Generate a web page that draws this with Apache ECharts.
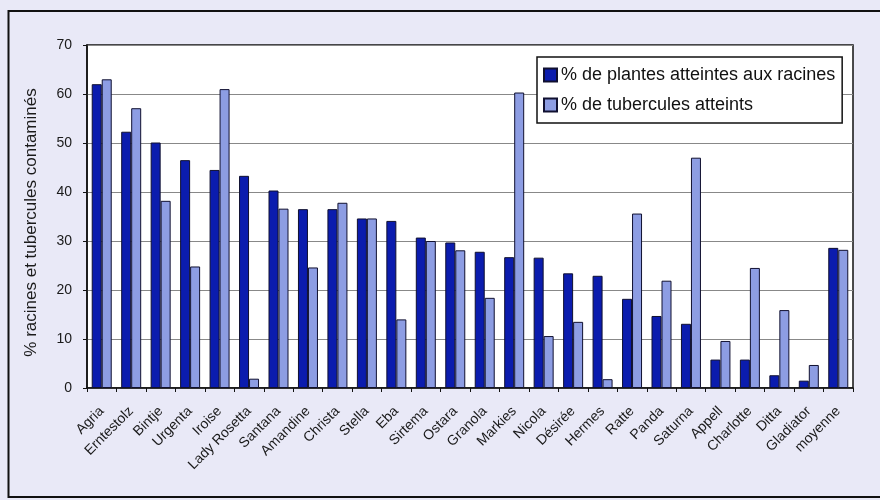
<!DOCTYPE html>
<html>
<head>
<meta charset="utf-8">
<script src="https://cdn.jsdelivr.net/npm/echarts@6/dist/echarts.min.js"></script>
<style>
  html, body { margin: 0; padding: 0; background: #e9e9f7; }
  #chart { width: 880px; height: 500px; }
</style>
</head>
<body>
<div id="chart"></div>
<script>
// Potato varieties, sorted by share of plants with infected roots
const varieties = ['Agria', 'Erntestolz', 'Bintje', 'Urgenta', 'Iroise', 'Lady Rosetta', 'Santana',
  'Amandine', 'Christa', 'Stella', 'Eba', 'Sirtema', 'Ostara', 'Granola', 'Markies', 'Nicola',
  'Désirée', 'Hermes', 'Ratte', 'Panda', 'Saturna', 'Appell', 'Charlotte', 'Ditta', 'Gladiator', 'moyenne'];

// % de plantes atteintes aux racines
const rootsPct = [62.0, 52.3, 50.1, 46.5, 44.5, 43.3, 40.3, 36.5, 36.5, 34.6, 34.1, 30.7, 29.7,
  27.8, 26.7, 26.6, 23.4, 22.9, 18.2, 14.7, 13.1, 5.8, 5.8, 2.6, 1.5, 28.6];

// % de tubercules atteints
const tubersPct = [63.0, 57.1, 38.2, 24.8, 61.0, 1.9, 36.6, 24.6, 37.8, 34.6, 14.0, 30.0, 28.1,
  18.4, 60.3, 10.6, 13.5, 1.8, 35.6, 21.9, 47.0, 9.6, 24.5, 15.9, 4.7, 28.2];

const yTicks = { min: 0, max: 70, interval: 10 };

const seriesNames = ['% de plantes atteintes aux racines', '% de tubercules atteints'];

const chart = echarts.init(document.getElementById('chart'), null, { renderer: 'canvas' });

chart.setOption({
  backgroundColor: '#e9e9f7',
  animation: false,
  textStyle: { fontFamily: 'Liberation Sans, Arial, sans-serif' },
  graphic: [{
    type: 'rect',
    shape: { x: 8.5, y: 11, width: 880, height: 486 },
    style: { fill: 'none', stroke: '#111', lineWidth: 2 },
    silent: true,
    z: -1
  }],
  grid: {
    left: 87, right: 27, top: 45, bottom: 112,
    show: true, backgroundColor: '#ffffff', borderColor: '#111', borderWidth: 1.5
  },
  legend: {
    orient: 'vertical',
    left: 537, top: 57,
    padding: [9, 7, 9, 6],
    itemWidth: 13, itemHeight: 13,
    itemGap: 12,
    backgroundColor: '#ffffff',
    borderColor: '#111', borderWidth: 1.5,
    textStyle: { fontSize: 18, color: '#111', padding: [0, 0, 0, -1] },
    data: seriesNames.map(n => ({ name: n, icon: 'rect' }))
  },
  xAxis: {
    type: 'category',
    data: varieties,
    axisLine: { lineStyle: { color: '#111', width: 1.5 } },
    axisTick: { show: true, length: 4, lineStyle: { color: '#111' } },
    axisLabel: { rotate: 45, fontSize: 14, color: '#1a1a1a', margin: 21, interval: 0 }
  },
  yAxis: {
    type: 'value',
    min: yTicks.min, max: yTicks.max, interval: yTicks.interval,
    name: '% racines et tubercules contaminés',
    nameLocation: 'middle',
    nameGap: 47,
    nameRotate: 90,
    nameTextStyle: { fontSize: 17, color: '#1a1a1a', padding: [0, 12, 0, 0] },
    axisLine: { show: true, lineStyle: { color: '#111', width: 1.5 } },
    axisTick: { show: true, length: 4, lineStyle: { color: '#111' } },
    axisLabel: { fontSize: 14, color: '#1a1a1a', margin: 15 },
    splitLine: { lineStyle: { color: '#888', width: 1 } }
  },
  series: [
    {
      name: seriesNames[0], type: 'bar', data: rootsPct,
      barWidth: 10, barGap: '0%',
      itemStyle: { color: '#0b1cae', borderColor: '#101030', borderWidth: 1 }
    },
    {
      name: seriesNames[1], type: 'bar', data: tubersPct,
      barWidth: 10, barGap: '0%',
      itemStyle: { color: '#8d9de3', borderColor: '#101030', borderWidth: 1 }
    }
  ]
});
</script>
</body>
</html>
